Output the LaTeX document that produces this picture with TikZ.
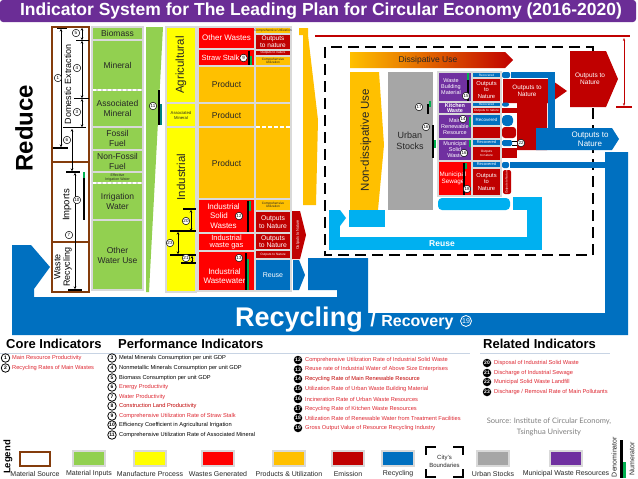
\documentclass[tikz,border=0pt]{standalone}
\usepackage{fontspec}
\setmainfont{Liberation Sans}
\newfontfamily\srcfont{Lato}
\usetikzlibrary{arrows.meta}
\definecolor{ttl}{RGB}{107,45,150}
\definecolor{grn}{RGB}{146,208,80}
\definecolor{ylw}{RGB}{255,255,0}
\definecolor{rd}{RGB}{255,0,0}
\definecolor{org}{RGB}{255,192,0}
\definecolor{drd}{RGB}{192,0,0}
\definecolor{blu}{RGB}{0,112,192}
\definecolor{lbl}{RGB}{0,176,240}
\definecolor{gry}{RGB}{166,166,166}
\definecolor{pur}{RGB}{112,48,160}
\definecolor{brn}{RGB}{132,60,12}
\definecolor{sep}{RGB}{217,217,217}
\definecolor{txtred}{RGB}{222,40,50}
\definecolor{dtxt}{RGB}{38,38,38}
\definecolor{numg}{RGB}{0,176,80}
\definecolor{hline}{RGB}{200,212,228}
\newcommand\fs[2]{\fontsize{#1}{#2}\selectfont}
\newcommand\bx[8]{\path[cellbox,fill=#6] (#2,#3) rectangle (#4,#5);\node[ctext,#7] (#1) at ({(#2+#4)/2},{(#3+#5)/2}) {#8};}
\tikzset{
 cellbox/.style={draw=sep,line width=1.2pt},
 ctext/.style={align=center,inner sep=0pt,text=dtxt,font={\fs{8.5}{10}}},
 cn/.style={circle,draw=black,fill=white,line width=0.5pt,inner sep=0pt,minimum size=7.5pt,text=black,font={\fs{4.5}{4.5}}},
 lc/.style={circle,draw=black,line width=0.8pt,inner sep=0pt,minimum size=8.5pt,font={\bfseries\fs{5}{5}}},
 lcb/.style={circle,fill=black,text=white,inner sep=0pt,minimum size=8.5pt,font={\bfseries\fs{5}{5}}},
 lt/.style={anchor=west,inner sep=0pt,font={\fs{5.7}{6}}},
 dimln/.style={line width=0.6pt,{Stealth[length=2.5pt,width=2.5pt]}-{Stealth[length=2.5pt,width=2.5pt]}},
 tk/.style={line width=1.1pt},
 legbox/.style={draw=sep,line width=1.2pt},
 leglab/.style={font={\fs{7}{8}},text=dtxt,inner sep=0pt},
 wsm/.style={text=white,font={\fs{5.5}{6}}},
 wtiny/.style={text=white,font={\fs{3.2}{3.6}}},
 dtiny/.style={text=dtxt,font={\fs{3.2}{3.6}}},
}
\begin{document}
\begin{tikzpicture}[x=1pt,y=-1pt]
\useasboundingbox (0,0) rectangle (638,479);
\fill[white] (0,0) rectangle (638,479);
% title
\fill[ttl,rounded corners=3pt] (0,0) rectangle (636,22);
\node[text=white,font={\bfseries\fs{17.5}{18}}] (title) at (321,11.5) {Indicator System for The Leading Plan for Circular Economy (2016-2020)};

% recycling band
\fill[blu] (12,245) -- (31,245) -- (50,267) -- (34,289) -- (34,297) -- (337,297) -- (337,290) -- (308,290) -- (308,258) -- (368,258) -- (368,313) -- (605,313) -- (605,152) -- (628,152) -- (628,335) -- (12,335) -- cycle;
\node[text=white,anchor=base west,inner sep=0pt] (recyc) at (235,326) {\bfseries\fs{27}{27}Recycling \fs{20}{20}/ \fs{16}{16}Recovery};
\node[circle,draw=white,line width=0.8pt,text=white,inner sep=0pt,minimum size=11pt,font={\fs{7}{7}}] (c19big) at (466,321) {19};

% Reduce
\node[rotate=90,font={\bfseries\fs{24}{24}}] (reduce) at (24,128) {Reduce};

% material source
\draw[brn,line width=2.2pt] (52,27) rectangle (89,292);
\draw[brn,line width=2.2pt] (52,162) -- (89,162) (52,242) -- (89,242);
\node[rotate=90,font={\fs{9}{9}}] (domext) at (68,84) {Domestic Extraction};
\node[rotate=90,font={\fs{9.5}{9.5}}] (imports) at (67,205) {Imports};
\node[rotate=90,align=center,font={\fs{9}{9.5}}] (wasterec) at (63,267) {Waste\\Recycling};
\draw[dimln] (61,29) -- (61,147);
\draw[tk] (57,28.5) -- (67,28.5); \draw[tk] (53,148) -- (68,148);
\node[cn] (c1) at (58,78) {1};
\draw[dimln] (82,28) -- (82,40);
\draw[dimln] (82,41) -- (82,98);
\draw[dimln] (82,99) -- (82,127);
\draw[tk] (76,40.5) -- (89,40.5); \draw[tk] (74,98.5) -- (89,98.5); \draw[tk] (63,127.5) -- (86,127.5);
\node[cn] (c5) at (76,33) {5};
\node[cn] (c4) at (77,68) {4};
\node[cn] (c3) at (77,112) {3};
\draw[dimln] (72,129) -- (72,171);
\node[cn] (c6) at (67,140) {6};
\draw[tk] (66,172) -- (80,172);
\draw[dimln] (75,173) -- (75,289);
\draw[tk] (68,290) -- (82,290);
\node[cn] (c10) at (77,200) {10};
\node[cn] (c7) at (69,235) {7};
\fill[black] (82.5,178) rectangle (84.5,220);
\fill[numg] (82.5,172) rectangle (84.5,178);

% material inputs
\bx{biomass}{92}{27}{143}{40}{grn}{}{Biomass}
\bx{mineral}{92}{40}{143}{90}{grn}{}{Mineral}
\bx{assoc}{92}{90}{143}{127}{grn}{}{Associated\\Mineral}
\bx{fossil}{92}{127}{143}{150}{grn}{}{Fossil\\Fuel}
\bx{nonfossil}{92}{150}{143}{172}{grn}{}{Non-Fossil\\Fuel}
\bx{effirr}{92}{172}{143}{183}{grn}{font={\fs{3.6}{4}}}{Effective\\Irrigation Water}
\bx{irr}{92}{183}{143}{220}{grn}{}{Irrigation\\Water}
\bx{otherw}{92}{220}{143}{290}{grn}{}{Other\\Water Use}
\draw[white,line width=1.3pt,dash pattern=on 3pt off 2pt] (93,90) -- (142,90) (93,183) -- (142,183);
\fill[grn] (146,27) -- (163,27) -- (149,292) -- (146,292) -- cycle;
\fill[black] (157.5,90) rectangle (159.5,125);
\fill[teal] (159.5,104) rectangle (161.5,125);
\node[cn] (c11) at (153,106) {11};

% manufacture process
\bx{agri}{166}{27}{196}{103}{ylw}{rotate=90,font={\fs{11.5}{12}}}{Agricultural}
\bx{assocm}{166}{103}{196}{127}{ylw}{font={\fs{4.2}{5}}}{Associated\\Mineral}
\bx{indus}{166}{127}{196}{292}{ylw}{}{}
\node[rotate=90,font={\fs{11.5}{12}},text=dtxt] (industrial) at (181,177) {Industrial};
\draw[dimln] (191,210) -- (191,231);
\draw[tk] (183,209) -- (196,209); \draw[tk] (170,231) -- (196,231);
\node[cn] (c20a) at (186,221) {20};
\draw[dimln] (178,232) -- (178,254);
\draw[tk] (170,255) -- (196,255);
\node[cn] (c23a) at (170,243) {23};
\draw[dimln] (192,256) -- (192,263);
\draw[tk] (181,263) -- (196,263);
\node[cn] (c21a) at (186,258) {21};

% wastes / products column A
\bx{otherwaste}{198}{27}{255}{49}{rd}{text=white,font={\fs{8}{9}}}{Other Wastes}
\bx{straw}{198}{49}{255}{66}{rd}{text=white,font={\fs{7.5}{9}},xshift=-6pt}{Straw Stalk}
\fill[black] (247.5,51) rectangle (249.5,65); \fill[numg] (249.5,56) rectangle (251.5,65);
\node[cn] (c9) at (243.5,58) {9};
\bx{prod1}{198}{66}{255}{103}{org}{}{Product}
\bx{prod2}{198}{103}{255}{127}{org}{}{Product}
\bx{prod3}{198}{127}{255}{199}{org}{}{Product}
\bx{isw}{198}{199}{255}{233}{rd}{text=white,font={\fs{8}{9.5}},xshift=-3pt}{Industrial\\Solid\phantom{00}\\Wastes}
\fill[black] (246.5,201) rectangle (248.5,232); \fill[numg] (248.5,201) rectangle (250.5,211);
\node[cn] (c12) at (239,216) {12};
\bx{iwg}{198}{233}{255}{251}{rd}{text=white,font={\fs{7.5}{7.5}}}{Industrial\\waste gas}
\bx{iww}{198}{251}{255}{291}{rd}{text=white,font={\fs{8}{9.5}},yshift=-5pt,xshift=-2pt}{Industrial\\Wastewater}
\fill[black] (244.5,253) rectangle (246.5,290); \fill[numg] (246.5,259) rectangle (248.5,290);
\node[cn] (c13) at (239,258) {13};

% column B
\bx{cu1}{255}{27}{291}{34}{org}{dtiny}{Comprehensive Utilization}
\bx{out1}{255}{34}{291}{50}{drd}{text=white,font={\fs{6.5}{6.8}}}{Outputs\\to nature}
\bx{out2}{255}{50}{291}{56}{drd}{wtiny}{Outputs to nature}
\bx{cu2}{255}{56}{291}{66}{org}{dtiny}{Comprehensive\\Utilization}
\bx{bp1}{255}{66}{291}{103}{org}{}{}
\bx{bp2}{255}{103}{291}{199}{org}{}{}
\draw[white,line width=1.3pt,dash pattern=on 4pt off 2pt] (256,127) -- (290,127);
\bx{cu3}{255}{199}{291}{211}{org}{dtiny}{Comprehensive\\Utilization}
\bx{out3}{255}{211}{291}{233}{drd}{text=white,font={\fs{6.8}{7.5}}}{Outputs\\to Nature}
\bx{out4}{255}{233}{291}{250}{drd}{text=white,font={\fs{6.8}{7.5}}}{Outputs\\to Nature}
\bx{out5}{255}{250}{291}{259}{drd}{wtiny}{Outputs to Nature}
\bx{reuse1}{255}{259}{291}{291}{blu}{text=white,font={\fs{7}{7}}}{Reuse}
\fill[drd] (292,211) -- (300,211) -- (306,235) -- (300,259) -- (292,259) -- cycle;
\node[rotate=90,text=white,font={\fs{3.8}{4}}] (otnv) at (298,235) {Outputs to Nature};
\fill[blu] (293,260) -- (299,260) -- (305,275) -- (299,290) -- (293,290) -- cycle;

% big orange arrow
\fill[org] (299,28) -- (308,28) -- (308,35) -- (318,120) -- (316,205) -- (303,205) -- (303,35) -- (299,35) -- cycle;

% top emission line
\draw[drd,line width=1.5pt] (315,36) -- (630,36);
\draw[drd,line width=0.8pt,{Stealth[length=3pt]}-{Stealth[length=3pt]}] (624,38) -- (624,106);
\draw[drd,line width=1.2pt] (616,107) -- (632,107);

% city boundary
\draw[line width=2.5pt,dash pattern=on 11pt off 6pt] (325,47) rectangle (593,255);

% dissipative
\path[left color=org,right color=drd] (350,52) -- (505,52) -- (513,60) -- (505,68) -- (350,68) -- cycle;
\node[font={\fs{8.5}{9}},text=dtxt] (dissuse) at (428,60) {Dissipative Use};
\fill[drd] (570,51) -- (606,51) -- (618,79) -- (606,107) -- (570,107) -- cycle;
\node[text=white,font={\fs{6.5}{7.5}},align=center] (otnbig) at (590,79) {Outputs to\\Nature};

% non-dissipative
\fill[org] (350,72) -- (379,72) -- (384,145) -- (378,210) -- (350,210) -- cycle;
\node[rotate=90,font={\fs{11.5}{12}},text=dtxt] (nondiss) at (366,140) {Non-dissipative Use};

% urban stocks
\fill[gry] (388,72) rectangle (433,210);
\node[align=center,font={\fs{9}{11}},text=dtxt] (urban) at (410,141) {Urban\\Stocks};
\fill[black] (426.5,104) rectangle (428.5,114); \fill[numg] (428.5,101) rectangle (430.5,107);
\fill[black] (432,125) rectangle (434,158); \fill[numg] (434,140) rectangle (436,148);
\node[cn] (c17) at (419,107) {17};
\node[cn] (c16) at (426,127) {16};

% municipal waste resources
\bx{wbm}{438}{72}{472}{102}{pur}{wsm,xshift=-4pt}{Waste\\Building\\Material}
\bx{kw}{438}{102}{472}{114}{pur}{text=white,font={\bfseries\fs{5.5}{5.2}}}{Kitchen\\Waste}
\bx{mrr}{438}{114}{472}{139}{pur}{wsm}{Main\\Renewable\\Resource}
\bx{msw}{438}{139}{472}{161}{pur}{wsm}{Municipal\\Solid\\Waste}
\bx{sew}{438}{161}{472}{196}{rd}{text=white,font={\fs{6.3}{7.5}},xshift=-2pt}{Municipal\\Sewage}
\fill[black] (467,73) rectangle (469,101); \fill[numg] (467,73) rectangle (469,80);
\fill[numg] (469,117) rectangle (471,127); \fill[numg] (469,140) rectangle (471,147);
\fill[black] (463,163) rectangle (465,195); \fill[numg] (465,163) rectangle (467,169);
\node[cn] (c15) at (466,96) {15};
\node[cn] (c14) at (463,119) {14};
\node[cn] (c16b) at (464,153) {16};
\node[cn] (c18) at (467,189) {18};

\bx{r1}{472}{72}{501}{78}{blu}{wtiny}{Recovered}
\bx{o1}{472}{78}{501}{102}{drd}{text=white,font={\fs{5.8}{6.2}}}{Outputs\\to\\Nature}
\bx{r2}{472}{102}{501}{107}{blu}{wtiny}{Recovered}
\bx{o2}{472}{107}{501}{114}{drd}{wtiny}{Outputs to nature}
\bx{r3}{472}{114}{501}{126}{blu}{text=white,font={\fs{4.5}{5}}}{Recovered}
\bx{o3}{472}{126}{501}{139}{drd}{}{}
\bx{r4}{472}{139}{501}{146}{blu}{text=white,font={\fs{4}{4.5}}}{Recovered}
\bx{o4}{472}{146}{501}{161}{drd}{wtiny}{Outputs\\to nature}
\bx{r5}{472}{161}{501}{168}{blu}{text=white,font={\fs{4}{4.5}}}{Recovered}
\bx{o5}{472}{168}{501}{196}{drd}{text=white,font={\fs{5.8}{6.2}}}{Outputs\\to\\Nature}

% emission region right of municipal
\fill[drd] (503,79) -- (550,79) -- (567,91) -- (550,103) -- (547,103) -- (547,150) -- (517,150) -- (517,103) -- (503,103) -- cycle;
\node[text=white,font={\fs{6.3}{7.5}},align=center] (otnmid) at (527,91) {Outputs to\\Nature};
\fill[drd] (502,108) rectangle (517,113);
\fill[drd,rounded corners=3pt] (502,127) rectangle (516,138);
\fill[drd] (502,148) rectangle (517,158);
\fill[drd,rounded corners=2pt] (503,170) rectangle (511,194);
\node[rotate=90,text=white,font={\fs{3}{3}}] (otns) at (507,182) {Outputs to Nature};

% recovered flows
\fill[blu,rounded corners=2pt] (502,72) rectangle (510,78);
\fill[blu] (511,72) rectangle (555,78);
\fill[blu] (548,72) rectangle (555,130);
\fill[blu,rounded corners=2pt] (502,102.5) rectangle (509,106.5);
\fill[blu,rounded corners=4pt] (502,115) rectangle (513,126);
\fill[blu,rounded corners=1.5pt] (502,140) rectangle (512,146);
\draw[line width=0.8pt] (512,141) -- (517,141) (512,145) -- (517,145);
\node[cn] (c22) at (521,143) {22};
\fill[blu,rounded corners=2pt] (502,162) rectangle (509,168);
\fill[blu] (510,162) rectangle (605,168);
\fill[blu] (536,128) -- (612,128) -- (619,139) -- (612,150) -- (536,150) -- cycle;
\node[text=white,font={\fs{8}{9}},align=center] (otnblue) at (590,139) {Outputs to\\Nature};

% reuse (light blue)
\fill[lbl] (329,210) rectangle (340,250);
\fill[lbl] (340,210) -- (346,218) -- (340,226) -- cycle;
\fill[lbl] (349,210) rectangle (385,227);
\fill[lbl] (329,237) rectangle (542,250);
\fill[lbl] (527,197) rectangle (542,250);
\fill[lbl] (513,197) rectangle (542,210);
\fill[lbl,rounded corners=4pt] (438,198) rectangle (510,210);
\node[text=white,font={\bfseries\fs{8.5}{9}}] (reuse2) at (442,244) {Reuse};

% indicator headings
\node[anchor=base west,inner sep=0pt,font={\bfseries\fs{13}{13}}] (hcore) at (6,348) {Core Indicators};
\node[anchor=base west,inner sep=0pt,font={\bfseries\fs{13}{13}}] (hperf) at (118,348) {Performance Indicators};
\node[anchor=base west,inner sep=0pt,font={\bfseries\fs{13}{13}}] (hrel) at (483,348) {Related Indicators};
\draw[hline,line width=1pt] (0,353) -- (470,353) (480,353) -- (610,353);

\foreach \n/\y/\t in {1/358/{Main Resource Productivity},2/368/{Recycling Rates of Main Wastes}}
 {\node[lc] (k\n) at (5.5,\y) {\n}; \node[lt,text=txtred] (kt\n) at (12,\y) {\t};}
\foreach \n/\y/\c/\t in {3/358/black/{Metal Minerals Consumption per unit GDP},
 4/368/black/{Nonmetallic Minerals Consumption per unit GDP},
 5/378/black/{Biomass Consumption per unit GDP},
 6/387/txtred/{Energy Productivity},
 7/397/txtred/{Water Productivity},
 8/406/drd/{Construction Land Productivity},
 9/416/txtred/{Comprehensive Utilization Rate of Straw Stalk},
 10/425/black/{Efficiency Coefficient in Agricultural Irrigation},
 11/435/black/{Comprehensive Utilization Rate of Associated Mineral}}
 {\node[lc] (p\n) at (112,\y) {\n}; \node[lt,text=\c] (pt\n) at (119,\y) {\t};}
\foreach \n/\y/\c/\t in {12/360/txtred/{Comprehensive Utilization Rate of Industrial Solid Waste},
 13/369.5/txtred/{Reuse rate of Industrial Water of Above Size Enterprises},
 14/379/drd/{Recycling Rate of Main Renewable Resource},
 15/389/txtred/{Utilization Rate of Urban Waste Building Material},
 16/399/txtred/{Incineration Rate of Urban Waste Resources},
 17/409/txtred/{Recycling Rate of Kitchen Waste Resources},
 18/418/txtred/{Utilization Rate of Renewable Water from Treatment Facilities},
 19/428/txtred/{Gross Output Value of Resource Recycling Industry}}
 {\node[lcb] (q\n) at (298,\y) {\n}; \node[lt,text=\c] (qt\n) at (305,\y) {\t};}
\foreach \n/\y/\t in {20/363/{Disposal of Industrial Solid Waste},
 21/373/{Discharge of Industrial Sewage},
 22/382/{Municipal Solid Waste Landfill},
 23/392/{Discharge / Removal Rate of Main Pollutants}}
 {\node[lcb] (r\n) at (487,\y) {\n}; \node[lt,text=txtred] (rt\n) at (494,\y) {\t};}
\node[align=center,text=gray,font={\srcfont\fs{7.5}{11}}] (src) at (549,427) {Source: Institute of Circular Economy,\\Tsinghua University};

% legend
\node[rotate=90,font={\bfseries\fs{9.5}{10}}] (legend) at (8,457) {Legend};
\draw[brn,line width=2pt,fill=white] (20,452) rectangle (50,466);
\node[leglab] (lgms) at (35,474) {Material Source};
\foreach \cx/\col/\lab/\nm in {89/grn/{Material Inputs}/mi,150/ylw/{Manufacture Process}/mp,218/rd/{Wastes Generated}/wg,289/org/{Products \& Utilization}/pu,348/drd/Emission/em,398/blu/Recycling/rec,493/gry/{Urban Stocks}/us,566/pur/{Municipal Waste Resources}/mwr}
 {\path[legbox,fill=\col] (\cx-16,451) rectangle (\cx+16,466); \node[leglab] (lg\nm) at (\cx,474) {\lab};}
\draw[line width=2.2pt] (426,455) -- (426,447) -- (436,447) (453,447) -- (463,447) -- (463,455)
 (463,469) -- (463,477) -- (453,477) (436,477) -- (426,477) -- (426,469);
\node[align=center,font={\fs{6}{8}},text=dtxt] (lgcity) at (444.5,461.5) {City's\\Boundaries};
\fill[black] (620,440) rectangle (622.5,478);
\fill[numg] (623,462) rectangle (626,478);
\node[rotate=90,font={\fs{7}{7}},text=dtxt] (denom) at (614,457) {Denominator};
\node[rotate=90,font={\fs{7}{7}},text=dtxt] (numer) at (632,459) {Numerator};
\end{tikzpicture}
\end{document}
